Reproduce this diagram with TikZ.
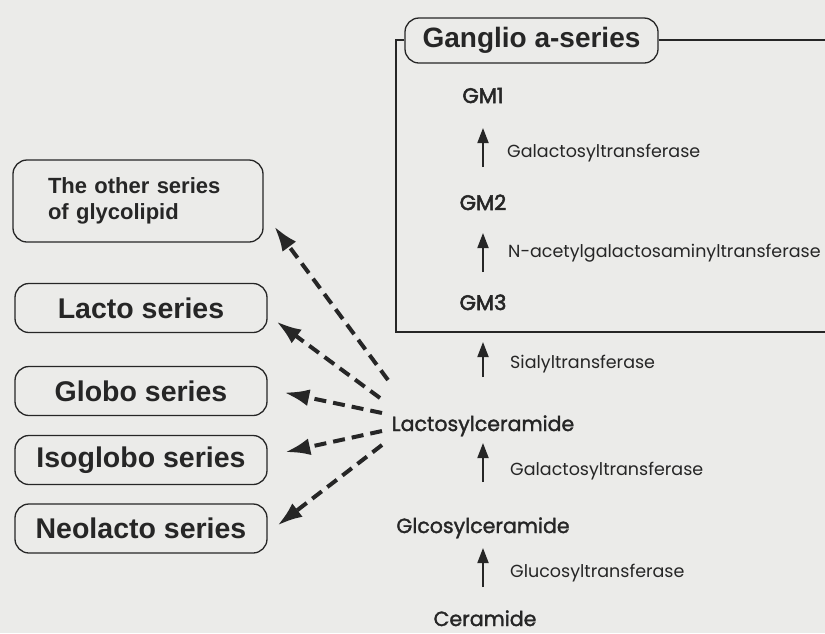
\documentclass[tikz,border=0pt]{standalone}
\usepackage{fontspec}
\setmainfont{Liberation Sans}
\newfontfamily\comic{Poppins}
\newfontfamily\comicm[FakeBold=1.6]{Poppins}
\newfontfamily\comicb[FakeBold=2.6]{Poppins}
\usetikzlibrary{arrows.meta}
\definecolor{bgc}{RGB}{235,235,233}
\definecolor{ink}{RGB}{38,38,38}
\begin{document}
\begin{tikzpicture}[x=1pt,y=-1pt,
  sbox/.style={draw=ink, line width=1.3pt, rounded corners=14pt, minimum width=252pt, minimum height=49pt,
    font=\bfseries\fontsize{28.5}{30}\selectfont, text=ink, inner sep=0pt},
  mol/.style={font=\comicm\fontsize{20.5}{22}\selectfont, text=ink, anchor=base, inner sep=0pt},
  gm/.style={mol, font=\comicb\fontsize{21}{22}\selectfont},
  enz/.style={font=\comic\fontsize{17.5}{20}\selectfont, text=ink, anchor=base west, inner sep=0pt},
  up/.style={draw=ink, line width=1.8pt, -{Triangle[length=15pt,width=11pt]}},
  dsh/.style={draw=ink, line width=4pt, dash pattern=on 12pt off 7pt, -{Latex[length=25pt,width=17pt]}},
  frameline/.style={draw=ink, line width=1.4pt}]
\useasboundingbox (0,0) rectangle (825,633);
\fill[bgc] (0,0) rectangle (825,633);

% frame of the ganglio series
\node[sbox, minimum width=253pt, minimum height=45pt, font=\bfseries\fontsize{28}{30}\selectfont] (gang) at (531.5,40.5) {Ganglio a-series};
\coordinate (ftl) at (396,40);
\coordinate (fbl) at (396,332);
\coordinate (fbr) at (825,332);
\coordinate (ftr) at (825,40);
\draw[frameline] (gang.west |- ftl) -- (ftl) -- (fbl) -- (fbr);
\draw[frameline] (gang.east |- ftr) -- (ftr);

% pathway
\node[gm] (gm1) at (483,103) {GM1};
\node[gm] (gm2) at (483,210) {GM2};
\node[gm] (gm3) at (483,310) {GM3};
\node[mol] (lac) at (483,431) {Lactosylceramide};
\node[mol] (glc) at (483,533) {Glcosylceramide};
\node[mol] (cer) at (485,626) {Ceramide};

\draw[up, shorten <=43pt, shorten >=25pt] (gm2.base) -- (gm1.base);
\draw[up, shorten <=38pt, shorten >=23pt] (gm3.base) -- (gm2.base);
\draw[up, shorten <=54pt, shorten >=32pt] (lac.base) -- (gm3.base);
\draw[up, shorten <=51pt, shorten >=12pt] (glc.base) -- (lac.base);
\draw[up, shorten <=39pt, shorten >=15pt] (cer.base -| glc.base) -- (glc.base);

\node[enz] (e1) at (507,157) {Galactosyltransferase};
\node[enz] (e2) at (508,257) {N-acetylgalactosaminyltransferase};
\node[enz] (e3) at (510,368) {Sialyltransferase};
\node[enz] (e4) at (510,475) {Galactosyltransferase};
\node[enz] (e5) at (510,577) {Glucosyltransferase};

% other series
\node[sbox, minimum width=250pt, minimum height=82pt, align=left, text width=180pt,
  font=\bfseries\fontsize{22}{26}\selectfont] (other) at (138,201) {The other series\\of glycolipid};
\node[sbox] (lacto) at (141,308) {Lacto series};
\node[sbox] (globo) at (141,391) {Globo series};
\node[sbox] (iso) at (141,460) {Isoglobo series};
\node[sbox] (neo) at (141,528.5) {Neolacto series};

\coordinate (s1) at (388,380);
\coordinate (s2) at (380,398);
\coordinate (s3) at (382,413);
\coordinate (s4) at (382,431);
\coordinate (s5) at (382,445);
\draw[dsh, shorten >=18pt] (s1) -- ([yshift=-11pt]other.east);
\draw[dsh, shorten >=11pt] (s2) -- ([yshift=-7pt]lacto.east);
\draw[dsh, shorten >=17pt] (s3) -- ([yshift=2pt]globo.east);
\draw[dsh, shorten >=18pt] (s4) -- ([yshift=4pt]iso.east);
\draw[dsh, shorten >=12.5pt] (s5) -- ([yshift=-4.5pt]neo.east);
\end{tikzpicture}
\end{document}
